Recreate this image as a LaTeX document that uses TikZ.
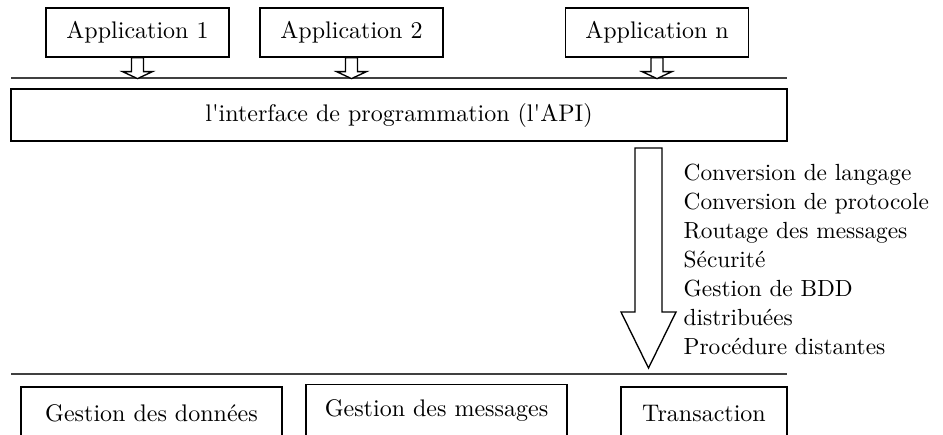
\documentclass[tikz,border=0pt]{standalone}
\usepackage{tikz}
\usetikzlibrary{positioning}

% hollow arrow pointing down: start point, shaft half width, head half width, shaft length, head length
\newcommand{\hollowdown}[5]{%
  \draw[fill=white] (#1) ++(-#2,0) -- ++(0,#4) -- ++(#2-#3,0) -- ++(#3,#5) -- ++(#3,-#5) -- ++(#2-#3,0) -- ++(0,-#4) -- cycle;}

\begin{document}
\begin{tikzpicture}[x=0.45pt,y=-0.45pt,line width=0.6pt,
    every node/.style={font={\fontsize{10.8}{13.1}\selectfont}},
    appbox/.style={draw,inner sep=0pt,minimum width=82.4pt,minimum height=22pt},
    layerbox/.style={draw,inner sep=0pt,minimum height=23.9pt},
    sepline/.style={line width=0.9pt,black!75}]

    \useasboundingbox (0,0) rectangle (943,434);

    % applications
    \node[appbox] (app1) at (137.5,32.5) {Application 1};
    \node[appbox] (app2) at (351.5,32.5) {Application 2};
    \node[appbox] (appn) at (657,32.5) {Application n};

    \coordinate (topL) at (11,78);
    \coordinate (topR) at (787,78);
    \draw[sepline] (topL) -- (topR);

    \hollowdown{app1.south}{6}{15}{14}{7}
    \hollowdown{app2.south}{6}{15}{14}{7}
    \hollowdown{appn.south}{6}{15}{14}{7}

    % API
    \node[draw,inner sep=0pt,minimum width=349.2pt,minimum height=23.4pt] (api) at (399,115)
        {l\textquotesingle interface de programmation (l\textquotesingle API)};

    % services
    \coordinate (flow) at (648.5,148);
    \hollowdown{flow}{13.5}{27.5}{164}{56}
    \node[anchor=north west,inner sep=0pt,align=left,font={\fontsize{10.5}{13.1}\selectfont}] (services) at (683,163)
        {Conversion de langage\\Conversion de protocole\\Routage des messages\\S\'ecurit\'e\\Gestion de BDD\\distribu\'ees\\Proc\'edure distantes};

    \coordinate (botL) at (11,374);
    \coordinate (botR) at (787,374);
    \draw[sepline] (botL) -- (botR);

    % lower layer
    \node[layerbox,minimum width=117.5pt] (data) at (151.5,413.5) {Gestion des donn\'ees};
    \node[layerbox,minimum width=117.5pt] (msg) at (436.5,411) {Gestion des messages};
    \node[layerbox,minimum width=74.7pt] (trans) at (704,413.5) {Transaction};

\end{tikzpicture}
\end{document}
